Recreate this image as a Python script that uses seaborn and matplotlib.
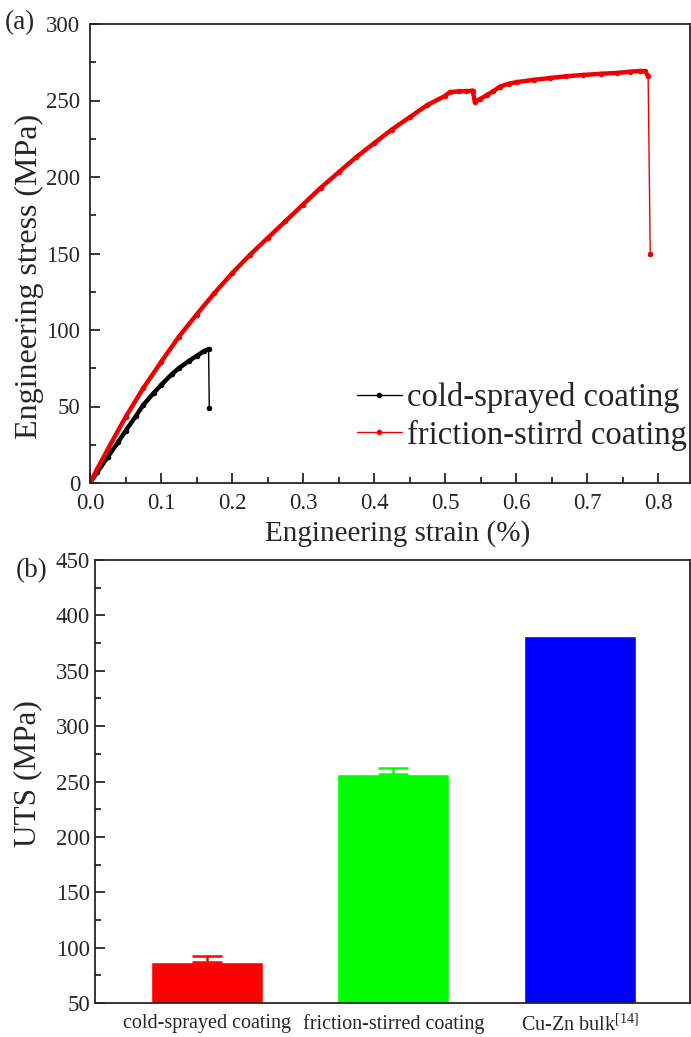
import matplotlib
matplotlib.use("Agg")
import matplotlib.pyplot as plt
import seaborn as sns
import pandas as pd

# --- data ---
# (a) stress-strain curves
cs_strain = [0.0, 0.01, 0.025, 0.04, 0.05, 0.065, 0.075, 0.09, 0.1, 0.115, 0.125, 0.14, 0.15, 0.16, 0.167, 0.168]
cs_stress = [0, 7, 17, 27, 34, 44, 51, 59, 64, 71, 75, 80, 83, 86, 87.5, 49]

fs_strain = [0.0, 0.01, 0.025, 0.05, 0.075, 0.1, 0.125, 0.15, 0.175, 0.2, 0.225, 0.25, 0.275, 0.3,
             0.325, 0.35, 0.375, 0.4, 0.425, 0.45, 0.475, 0.5, 0.507, 0.52, 0.53, 0.539, 0.542,
             0.549, 0.559, 0.568, 0.577, 0.59, 0.601, 0.625, 0.648, 0.67, 0.695, 0.72, 0.742,
             0.76, 0.775, 0.782, 0.786, 0.789]
fs_stress = [0, 9, 22, 43, 62, 79, 95.5, 110, 124, 137, 149, 160, 171, 182,
             193, 203, 213, 222, 231, 239, 247, 253, 255.5, 256, 256, 256.5, 249,
             250.8, 253.6, 256, 259, 261, 262, 263.5, 264.7, 265.8, 266.7, 267.5, 268,
             268.8, 269.3, 269, 266, 150]

# (b) ultimate tensile strength
categories = ["cold-sprayed coating", "friction-stirred coating", r"Cu-Zn bulk$^{\mathrm{[14]}}$"]
uts = [87, 257, 381]
uts_err = [5, 5, 0]
bar_colors = ["#ff0000", "#00ff00", "#0000ff"]

sns.set_style("ticks")
plt.rcParams["font.family"] = ["Liberation Serif", "DejaVu Serif"]
plt.rcParams["mathtext.fontset"] = "custom"
plt.rcParams["mathtext.rm"] = "Liberation Serif"
plt.rcParams["axes.linewidth"] = 1.3

fig = plt.figure(figsize=(6.91, 10.37), dpi=100)
ax1 = fig.add_axes([90 / 691, 1 - 483 / 1037, 600 / 691, 459 / 1037])
ax2 = fig.add_axes([95 / 691, 1 - 1003 / 1037, 595 / 691, 443 / 1037])

# ---- panel (a) ----
line_colors = {"cold-sprayed coating": "black", "friction-stirrd coating": "#ee0000"}
curves = pd.concat([
    pd.DataFrame({"strain": cs_strain, "stress": cs_stress, "sample": "cold-sprayed coating"}),
    pd.DataFrame({"strain": fs_strain, "stress": fs_stress, "sample": "friction-stirrd coating"}),
])
# thin line through every point (incl. the fracture drop)
sns.lineplot(data=curves, x="strain", y="stress", hue="sample", sort=False, estimator=None,
             palette=line_colors, marker="o", markersize=4, markeredgewidth=0,
             linewidth=1.0, ax=ax1)
# dense-looking thick trace up to fracture
before_drop = pd.concat([
    pd.DataFrame({"strain": cs_strain[:-1], "stress": cs_stress[:-1], "sample": "cold-sprayed coating"}),
    pd.DataFrame({"strain": fs_strain[:-1], "stress": fs_stress[:-1], "sample": "friction-stirrd coating"}),
])
sns.lineplot(data=before_drop, x="strain", y="stress", hue="sample", sort=False, estimator=None,
             palette=line_colors, linewidth=3.2, legend=False, ax=ax1)

ax1.set_xlim(0, 0.845)
ax1.set_ylim(0, 300)
ax1.set_xticks([0.0, 0.1, 0.2, 0.3, 0.4, 0.5, 0.6, 0.7, 0.8])
ax1.set_xticks([0.05, 0.15, 0.25, 0.35, 0.45, 0.55, 0.65, 0.75], minor=True)
ax1.set_yticks(range(0, 301, 50))
ax1.set_yticks(range(25, 300, 50), minor=True)
ax1.set_xticklabels([f"{v:.1f}" for v in ax1.get_xticks()])
ax1.tick_params(which="both", direction="in", labelsize=16.5, width=1.3, top=False, right=False)
ax1.tick_params(which="major", length=7)
ax1.tick_params(which="minor", length=4)
ax1.tick_params(axis="x", pad=7)
ax1.tick_params(axis="y", pad=7)
ax1.set_xlabel("Engineering strain (%)", fontsize=21)
ax1.set_ylabel("Engineering stress (MPa)", fontsize=23)
ax1.xaxis.set_label_coords(0.512, -0.08)
ax1.yaxis.set_label_coords(-0.077, 0.449)
leg = ax1.legend(loc="lower right", bbox_to_anchor=(0.995, 0.07), frameon=False, fontsize=23.5,
                 handlelength=1.4, handletextpad=0.15, labelspacing=0.2, borderpad=0,
                 borderaxespad=0, title=None)
ax1.text(-0.142, 1.004, "(a)", transform=ax1.transAxes, fontsize=19.5, ha="left", va="center")

# ---- panel (b) ----
bars = pd.DataFrame({"material": categories, "uts": uts})
sns.barplot(data=bars, x="material", y="uts", hue="material", palette=bar_colors,
            saturation=1, width=0.6, legend=False, ax=ax2)
for i, (v, e) in enumerate(zip(uts, uts_err)):
    if e > 0:
        ax2.errorbar(i, v, yerr=[[0], [e]], color=bar_colors[i], capsize=11, capthick=1.8,
                     elinewidth=1.8, fmt="none")
ax2.set_xlim(-0.6, 2.59)
ax2.set_ylim(50, 450)
ax2.set_yticks(range(50, 451, 50))
ax2.set_yticks(range(75, 450, 50), minor=True)
ax2.tick_params(axis="y", which="both", direction="in", labelsize=16.5, width=1.3, right=False)
ax2.tick_params(axis="y", which="major", length=7)
ax2.tick_params(axis="y", which="minor", length=4)
ax2.tick_params(axis="x", length=0, labelsize=14.5, pad=8)
ax2.set_xlabel("")
ax2.set_ylabel("UTS (MPa)", fontsize=22.5)
ax2.yaxis.set_label_coords(-0.089, 0.517)
ax2.text(-0.134, 0.977, "(b)", transform=ax2.transAxes, fontsize=19.5, ha="left", va="center")

fig.savefig("out.png", dpi=100)
